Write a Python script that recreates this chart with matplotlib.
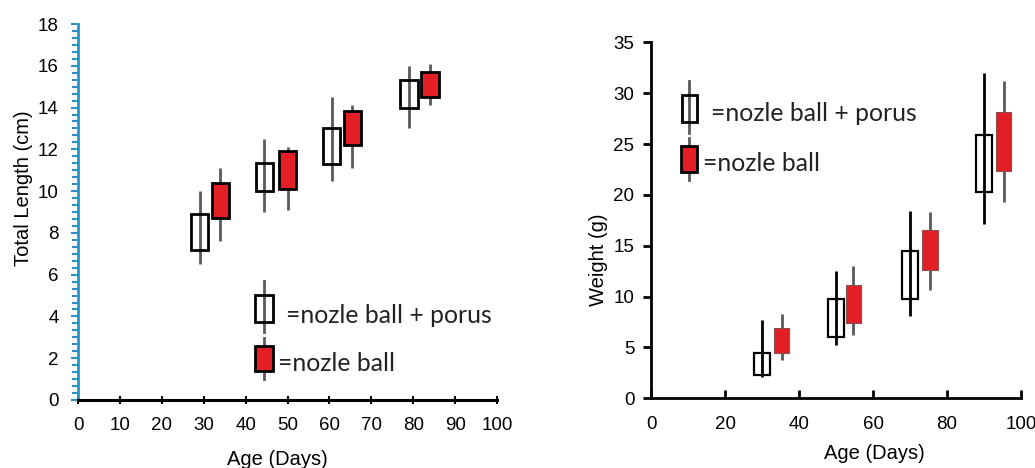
import numpy as np
import matplotlib
matplotlib.use("Agg")
import matplotlib.pyplot as plt
from matplotlib.patches import Rectangle
from matplotlib.ticker import MultipleLocator

# ---- data: total length (cm) ----
len_days_porus = [29, 44.5, 60.5, 79]
len_days_ball = [34, 50, 65.5, 84]
len_porus_low = [6.5, 9.0, 10.5, 13.0]
len_porus_q1 = [7.2, 10.0, 11.3, 14.0]
len_porus_q3 = [8.9, 11.35, 13.0, 15.3]
len_porus_high = [10.0, 12.5, 14.5, 16.0]
len_ball_low = [7.6, 9.1, 11.1, 14.1]
len_ball_q1 = [8.7, 10.1, 12.2, 14.5]
len_ball_q3 = [10.4, 11.9, 13.85, 15.7]
len_ball_high = [11.1, 12.1, 14.1, 16.1]

# ---- data: weight (g) ----
wt_days_porus = [30, 50, 70, 90]
wt_days_ball = [35.3, 54.7, 75.4, 95.3]
wt_porus_low = [2.1, 5.2, 8.1, 17.1]
wt_porus_q1 = [2.3, 6.0, 9.8, 20.3]
wt_porus_q3 = [4.5, 9.8, 14.5, 25.9]
wt_porus_high = [7.7, 12.5, 18.4, 32.0]
wt_ball_low = [3.8, 6.2, 10.6, 19.3]
wt_ball_q1 = [4.5, 7.4, 12.6, 22.3]
wt_ball_q3 = [6.9, 11.1, 16.5, 28.1]
wt_ball_high = [8.3, 13.0, 18.3, 31.2]

label_porus = "=nozle ball + porus"
label_ball = "=nozle ball"

RED = "#e41e25"
BLUE = "#2a93c6"
GREY = "#5a5a5a"
BOX_W = 4.2

plt.rcParams["font.family"] = ["Liberation Sans", "DejaVu Sans"]

fig = plt.figure(figsize=(10.35, 4.68), dpi=100)
ax1 = fig.add_axes([0.0754, 0.1453, 0.4048, 0.8034])
ax2 = fig.add_axes([0.629, 0.1489, 0.3575, 0.7607])


def candles(ax, x, low, q1, q3, high, face, edge, wcolor, elw):
    x = np.array(x)
    q1 = np.array(q1)
    q3 = np.array(q3)
    ax.vlines(x, low, high, color=wcolor, lw=2, zorder=1)
    ax.bar(x, q3 - q1, bottom=q1, width=BOX_W, facecolor=face,
           edgecolor=edge, lw=elw, zorder=2)


def key(ax, xc, box, whisk, face, edge, wcolor, w=0.042):
    ax.plot([xc, xc], whisk, color=wcolor, lw=2, transform=ax.transAxes, zorder=1)
    ax.add_patch(Rectangle((xc - w / 2, box[0]), w, box[1] - box[0],
                           transform=ax.transAxes, facecolor=face,
                           edgecolor=edge, lw=2, zorder=2))


# ---- left panel ----
candles(ax1, len_days_porus, len_porus_low, len_porus_q1, len_porus_q3,
        len_porus_high, "none", "black", GREY, 2)
candles(ax1, len_days_ball, len_ball_low, len_ball_q1, len_ball_q3,
        len_ball_high, RED, "black", GREY, 2)
ax1.set_xlim(0, 100)
ax1.set_ylim(0, 18)
ax1.xaxis.set_major_locator(MultipleLocator(10))
ax1.yaxis.set_major_locator(MultipleLocator(2))
ax1.yaxis.set_minor_locator(MultipleLocator(1 / 3))
for s in ["top", "right"]:
    ax1.spines[s].set_visible(False)
ax1.spines["left"].set_color(BLUE)
ax1.spines["left"].set_linewidth(2)
ax1.spines["bottom"].set_linewidth(2.2)
ax1.tick_params(axis="y", which="both", colors=BLUE, labelcolor="black",
                direction="out", width=1.5, labelsize=13.5, pad=9)
ax1.tick_params(axis="y", which="major", length=5)
ax1.tick_params(axis="y", which="minor", length=4)
ax1.tick_params(axis="x", direction="inout", length=6, width=1.5,
                labelsize=13.5, pad=9)
ax1.set_ylabel("Total Length (cm)", fontsize=14.5)
ax1.set_xlabel("Age (Days)", fontsize=14.5)
ax1.yaxis.set_label_coords(-0.107, 0.564)
ax1.xaxis.set_label_coords(0.476, -0.133)

key(ax1, 0.444, (0.208, 0.279), (0.181, 0.316), "none", "black", GREY)
key(ax1, 0.444, (0.077, 0.144), (0.056, 0.165), RED, "black", GREY)
ax1.text(0.496, 0.2056, label_porus, transform=ax1.transAxes, fontsize=17.8,
         family=["Lato", "DejaVu Sans"], color="#222222", va="baseline")
ax1.text(0.4766, 0.078, label_ball, transform=ax1.transAxes, fontsize=17.8,
         family=["Lato", "DejaVu Sans"], color="#222222", va="baseline")

# ---- right panel ----
candles(ax2, wt_days_porus, wt_porus_low, wt_porus_q1, wt_porus_q3,
        wt_porus_high, "none", "black", "black", 1.6)
candles(ax2, wt_days_ball, wt_ball_low, wt_ball_q1, wt_ball_q3,
        wt_ball_high, RED, "#8a5050", GREY, 0.8)
ax2.set_xlim(0, 100)
ax2.set_ylim(0, 35)
ax2.xaxis.set_major_locator(MultipleLocator(20))
ax2.yaxis.set_major_locator(MultipleLocator(5))
for s in ["top", "right"]:
    ax2.spines[s].set_visible(False)
for s in ["left", "bottom"]:
    ax2.spines[s].set_linewidth(2)
ax2.tick_params(axis="y", direction="out", length=6, width=2,
                labelsize=13.5, pad=6)
ax2.tick_params(axis="x", direction="in", length=6, width=2,
                labelsize=13.5, pad=13)
ax2.set_ylabel("Weight (g)", fontsize=14.5)
ax2.set_xlabel("Age (Days)", fontsize=14.5)
ax2.yaxis.set_label_coords(-0.116, 0.389)
ax2.xaxis.set_label_coords(0.605, -0.128)

key(ax2, 0.104, (0.776, 0.853), (0.746, 0.890), "none", "black", GREY)
key(ax2, 0.103, (0.636, 0.710), (0.613, 0.731), RED, "black", GREY)
ax2.text(0.162, 0.780, label_porus, transform=ax2.transAxes, fontsize=17.8,
         family=["Lato", "DejaVu Sans"], color="#222222", va="baseline")
ax2.text(0.141, 0.639, label_ball, transform=ax2.transAxes, fontsize=17.8,
         family=["Lato", "DejaVu Sans"], color="#222222", va="baseline")

fig.savefig("out.png", dpi=100)
